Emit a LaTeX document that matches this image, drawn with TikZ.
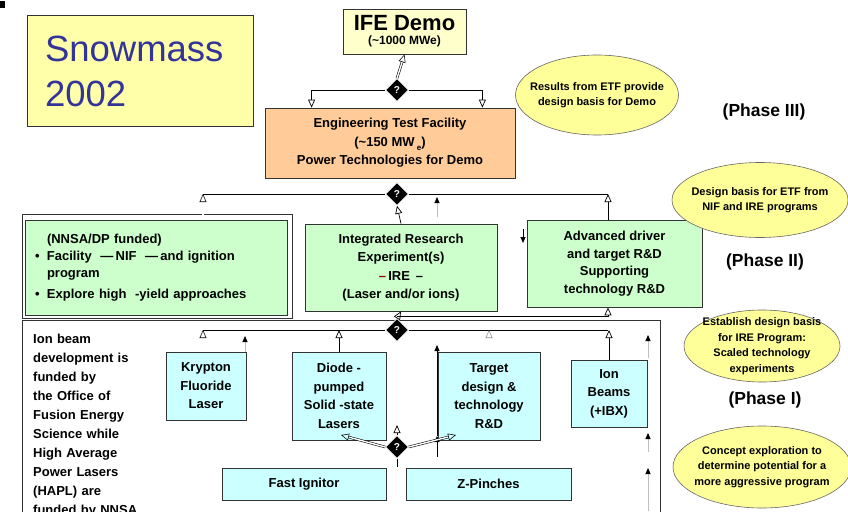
\documentclass[tikz,border=0pt]{standalone}
\usepackage{fontspec}
\setmainfont{Liberation Sans}
\usetikzlibrary{shapes.geometric,arrows.meta,positioning}

\definecolor{snowfill}{RGB}{255,255,170}
\definecolor{snowblue}{RGB}{51,51,153}
\definecolor{demofill}{RGB}{255,255,204}
\definecolor{etffill}{RGB}{255,204,153}
\definecolor{greenfill}{RGB}{204,255,204}
\definecolor{cyanfill}{RGB}{204,255,255}
\definecolor{notefill}{RGB}{255,255,153}
\definecolor{iredash}{RGB}{153,0,0}

\begin{document}
\begin{tikzpicture}[x=1pt, y=-1pt,
        box/.style={rectangle, draw=black!80, line width=0.8pt, align=center, inner sep=2pt, font=\fontsize{13}{18.5}\selectfont\bfseries},
        greenbox/.style={box, fill=greenfill},
        cyanbox/.style={box, fill=cyanfill},
        decision/.style={diamond, aspect=1, fill=black, draw=white, line width=0.6pt, minimum size=23pt, inner sep=0pt, text=white, font=\fontsize{10}{10}\selectfont\bfseries},
        note/.style={ellipse, draw=black!60, line width=0.6pt, fill=notefill},
        notetext/.style={align=center, font=\fontsize{11}{15.5}\selectfont\bfseries},
        phase/.style={font=\fontsize{17.5}{20}\selectfont\bfseries},
        sidetext/.style={text width=120pt, align=left, inner xsep=0pt, inner ysep=2.85pt, text height=10pt, text depth=3pt, font=\fontsize{13}{15}\selectfont\bfseries},
        line/.style={draw, line width=0.7pt},
        opentip/.style={line, -{Triangle[open, length=8pt, width=7pt]}},
        dbltip/.style={opentip, double, double distance=1.4pt, line width=0.55pt},
        marker/.style={draw=black!25, line width=0.9pt, -{Triangle[color=black, length=6pt, width=5pt]}}
    ]
        \path[use as bounding box, fill=white] (0,0) rectangle (848,511);
        \fill (0,1) rectangle (5,8);
        % Title
        \node[rectangle, draw=black!80, line width=1pt, fill=snowfill, minimum width=226pt, minimum height=110pt, text=snowblue, text width=190pt, align=left, font=\fontsize{36.5}{45}\selectfont] (snowmass) at (140,71) {Snowmass\\2002};
        % Phase III
        \node[box, fill=demofill, minimum width=123pt, minimum height=45pt, font=\fontsize{12}{14}\selectfont\bfseries] (demo) at (404.5,31.5) {{\fontsize{22}{22}\selectfont IFE Demo}\\(\textasciitilde 1000 MWe)};
        \node[box, fill=etffill, minimum width=250pt, minimum height=70pt] (etf) at (390,143) {Engineering Test Facility\\(\textasciitilde 150 MW\,\raisebox{-4pt}{\fontsize{8}{8}\selectfont e})\\Power Technologies for Demo};
        % Phase II
        \node[rectangle, draw=black!80, line width=0.8pt, minimum width=270pt, minimum height=104pt] (nnsaframe) at (157,266) {};
        \node[greenbox, minimum width=262pt, minimum height=95pt, text width=242pt, align=left, font=\fontsize{13}{17}\selectfont\bfseries] (nnsa) at (156,267.5) {\hspace*{12pt}(NNSA/DP funded)\\\makebox[12pt][l]{\textbullet}Facility\ \ ---\,NIF\ \ ---\,and ignition\\\hspace*{12pt}program\\[4pt]\makebox[12pt][l]{\textbullet}Explore high\ \ -yield approaches};
        \node[greenbox, minimum width=192pt, minimum height=87pt] (ire) at (401,267.5) {Integrated Research\\Experiment(s)\\{\color{iredash}--}\,IRE\, --\\(Laser and/or ions)};
        \node[greenbox, minimum width=175pt, minimum height=87pt, font=\fontsize{13}{17.5}\selectfont\bfseries] (adv) at (614.5,263.5) {Advanced driver\\and target R\&D\\Supporting\\technology R\&D};
        % Phase I
        \node[rectangle, draw=black!80, line width=0.8pt, minimum width=638pt, minimum height=200pt, anchor=north west] (lowframe) at (22,320) {};
        \node[cyanbox, minimum width=80pt, minimum height=68pt] (krypton) at (206,386) {Krypton\\Fluoride\\Laser};
        \node[cyanbox, minimum width=94pt, minimum height=88pt] (diode) at (339,396) {Diode -\\pumped\\Solid -state\\Lasers};
        \node[cyanbox, minimum width=102pt, minimum height=88pt] (target) at (489,396) {Target\\design \&\\technology\\R\&D};
        \node[cyanbox, minimum width=76pt, minimum height=67pt] (ionbeams) at (609,393.5) {Ion\\Beams\\(+IBX)};
        \node[cyanbox, minimum width=164pt, minimum height=32pt] (fast) at (304,484) {Fast Ignitor};
        \node[cyanbox, minimum width=165pt, minimum height=32pt] (zpinch) at (488.5,484) {Z-Pinches};
        % Funding note
        \node[sidetext, anchor=north west] (ionbeam) at (33,330) {Ion beam};
        \node[sidetext, below=0pt of ionbeam] (development) {development is};
        \node[sidetext, below=0pt of development] (fundedby) {funded by};
        \node[sidetext, below=0pt of fundedby] (office) {the Office of};
        \node[sidetext, below=0pt of office] (fusion) {Fusion Energy};
        \node[sidetext, below=0pt of fusion] (science) {Science while};
        \node[sidetext, below=0pt of science] (high) {High Average};
        \node[sidetext, below=0pt of high] (power) {Power Lasers};
        \node[sidetext, below=0pt of power] (hapl) {(HAPL) are};
        \node[sidetext, below=0pt of hapl] (nnsafund) {funded by NNSA};
        % Decisions
        \node[decision] (q1) at (397,90) {?};
        \node[decision] (q2) at (397,194) {?};
        \node[decision] (q3) at (397,330) {?};
        \node[decision] (q4) at (397,447) {?};
        % Notes and phases
        \node[note, minimum width=163pt, minimum height=80pt] (etfnote) at (597,95) {};
        \node[notetext] (etfnotetext) at (etfnote) {Results from ETF provide\\design basis for Demo};
        \node[note, minimum width=176pt, minimum height=75pt] (irenote) at (760,200) {};
        \node[notetext] (irenotetext) at (irenote) {Design basis for ETF from\\NIF and IRE programs};
        \node[note, minimum width=156pt, minimum height=72pt] (scalenote) at (762,346) {};
        \node[notetext] (scalenotetext) at (scalenote) {Establish design basis\\for IRE Program:\\Scaled technology\\experiments};
        \node[note, minimum width=178pt, minimum height=82pt] (conceptnote) at (762,467) {};
        \node[notetext] (conceptnotetext) at (conceptnote) {Concept exploration to\\determine potential for a\\more aggressive program};
        \node[phase] (phase3) at (764,112) {(Phase III)};
        \node[phase] (phase2) at (765,262) {(Phase II)};
        \node[phase] (phase1) at (765,400) {(Phase I)};
        % Connections, phase III
        \draw[dbltip] (q1.north) -- (demo.south);
        \draw[opentip] (q1.west) -| ([xshift=47pt]etf.north west);
        \draw[opentip] (q1.east) -| ([xshift=-33pt]etf.north east);
        % Connections, phase II
        \coordinate (j2l) at (203,194);
        \coordinate (j2r) at (608,194);
        \draw[line] (q2.west) -- (j2l);
        \draw[line] (q2.east) -- (j2r);
        \draw[dbltip] (nnsa.north -| j2l) -- (j2l);
        \draw[opentip] (adv.north -| j2r) -- (j2r);
        \draw[opentip] (ire.north) -- (q2.south);
        \coordinate (m1a) at (437,217);
        \coordinate (m1b) at (437,197);
        \draw[marker] (m1a) -- (m1b);
        \coordinate (m2a) at (523,229);
        \coordinate (m2b) at (523,243);
        \draw[marker, draw=black] (m2a) -- (m2b);
        \coordinate (j3m) at (397,316);
        \draw[opentip] (q3.north) -- (ire.south);
        \draw[opentip] (j3m) -| (adv.south -| j2r);
        % Connections, phase I
        \coordinate (j3l) at (203,330);
        \coordinate (j3r) at (608,330);
        \draw[line] (q3.west) -- (j3l);
        \draw[line] (q3.east) -- (j3r);
        \draw[dbltip] (krypton.north -| j3l) -- (j3l);
        \draw[opentip] (diode.north) -- (diode.north |- j3l);
        \draw[dbltip, draw=black!45] (target.north) -- (target.north |- j3l);
        \draw[opentip] (ionbeams.north) -- (ionbeams.north |- j3l);
        \coordinate (m3a) at (245,352);
        \coordinate (m3b) at (245,336);
        \draw[marker] (m3a) -- (m3b);
        \coordinate (m4a) at (437,457);
        \coordinate (m4b) at (437,436);
        \coordinate (m4c) at (437,345);
        \draw[marker, draw=black] (m4a) -- (m4b);
        \draw[marker, draw=black] (m4b) -- (m4c);
        \foreach \ya/\yb [count=\i] in {358/335, 452/433, 511/468} {
            \coordinate (r\i a) at (648,\ya);
            \coordinate (r\i b) at (648,\yb);
            \draw[marker] (r\i a) -- (r\i b);
        }
        % Bottom decision
        \coordinate (t4l) at (341,435);
        \coordinate (t4r) at (456,435);
        \coordinate (q4up) at (397,425);
        \coordinate (q4down) at (397,467);
        \draw[dbltip] (q4.west) -- (t4l);
        \draw[dbltip] (q4.east) -- (t4r);
        \draw[opentip] (q4.north) -- (q4up);
        \draw[line] (q4.south) -- (q4down);
    \end{tikzpicture}
\end{document}
